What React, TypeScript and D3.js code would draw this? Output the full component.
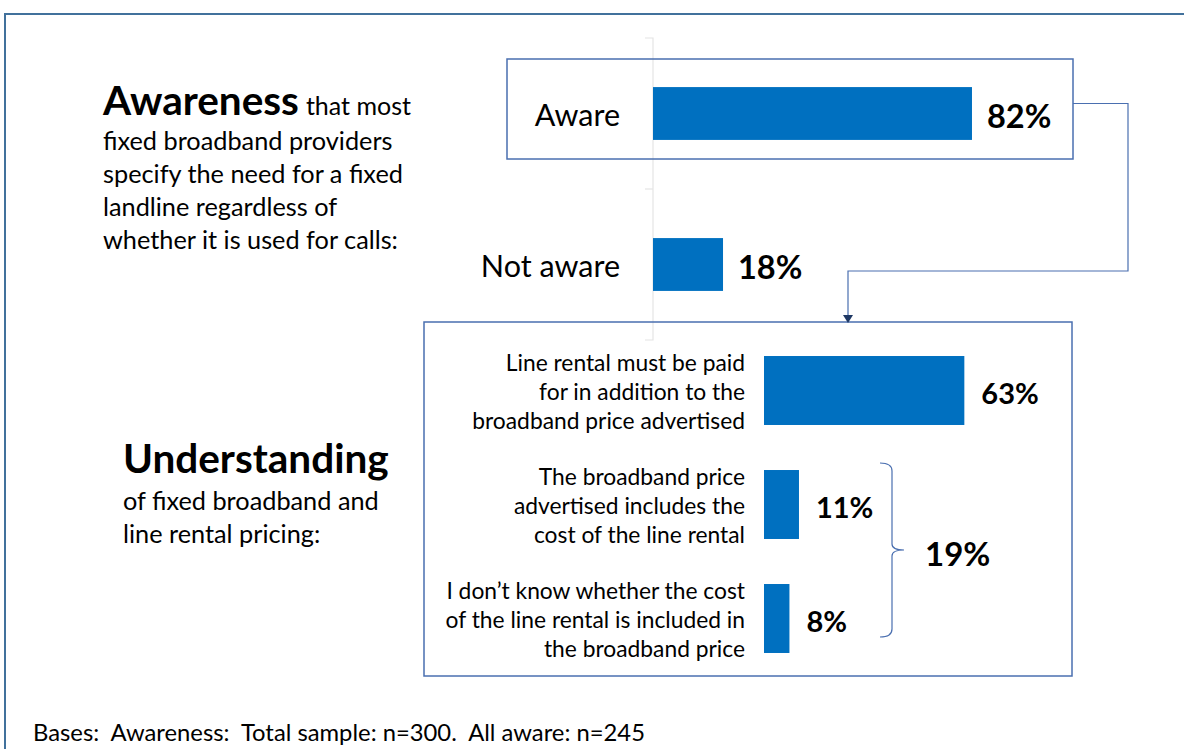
import React from 'react';
import * as d3 from 'd3';

const awarenessCategories = ['Aware', 'Not aware'];
const awarenessValues = [82, 18];

const understandingLabels = [
  ['Line rental must be paid', 'for in addition to the', 'broadband price advertised'],
  ['The broadband price', 'advertised includes the', 'cost of the line rental'],
  ['I don\u2019t know whether the cost', 'of the line rental is included in', 'the broadband price'],
];
const understandingValues = [63, 11, 8];
const notPaidTotal = 19;

const basesNote = 'Bases:  Awareness:  Total sample: n=300.  All aware: n=245';

const BAR = '#0070c0';
const FRAME = '#41719c';
const BOX = '#4a6fb0';
const FONT = 'Lato, "Open Sans", sans-serif';

const App = () => {
  const width = 1184;
  const height = 749;

  // top chart scales
  const yTop = d3
    .scaleBand()
    .domain(awarenessCategories)
    .range([38, 340])
    .paddingInner(0.65)
    .paddingOuter(0.325);
  const xTop = d3.scaleLinear().domain([0, 100]).range([653, 1042]);

  // bottom chart scales
  const keys = understandingLabels.map((d, i) => 'u' + i);
  const yBot = d3
    .scaleBand()
    .domain(keys)
    .range([333.5, 675.5])
    .paddingInner(0.395)
    .paddingOuter(0.1975);
  const xBot = d3.scaleLinear().domain([0, 100]).range([764, 1082]);

  // brace around the last two bars
  const bTop = yBot('u1')! - 7;
  const bBot = yBot('u2')! + yBot.bandwidth() - 16;
  const bMid = (bTop + bBot) / 2;
  const bx = 880;
  const brace = `M${bx},${bTop} Q${bx + 12},${bTop} ${bx + 12},${bTop + 8} L${bx + 12},${bMid - 6} Q${bx + 12},${bMid} ${bx + 24},${bMid} Q${bx + 12},${bMid} ${bx + 12},${bMid + 6} L${bx + 12},${bBot - 8} Q${bx + 12},${bBot} ${bx},${bBot}`;

  const awareMid = yTop('Aware')! + yTop.bandwidth() / 2;

  return (
    <svg width={width} height={height} style={{ position: 'absolute', left: 0, top: 0 }}>
      <rect width={width} height={height} fill="#fff" />

      {/* outer frame */}
      <path d={`M5,${height} L5,14 L${width + 5},14`} fill="none" stroke={FRAME} strokeWidth={2} />

      {/* faint category axis of the top chart */}
      <g stroke="#e4e4e4" strokeWidth={1.2} fill="none">
        <path d={`M645,38 L653,38 L653,340 L645,340`} />
        <path d={`M645,189 L653,189`} />
      </g>

      {/* boxes */}
      <rect x={507} y={59} width={566} height={100} fill="none" stroke={BOX} strokeWidth={1.5} />
      <rect x={424} y={322} width={648} height={354} fill="none" stroke={BOX} strokeWidth={1.5} />

      {/* connector */}
      <path
        d={`M1073,${awareMid - 10} L1128,${awareMid - 10} L1128,271 L848,271 L848,316`}
        fill="none"
        stroke={BOX}
        strokeWidth={1.2}
      />
      <path d="M843,315 L853,315 L848,323 Z" fill="#1f3864" />

      {/* awareness bars */}
      {awarenessCategories.map((c, i) => {
        const y = yTop(c)!;
        const h = yTop.bandwidth();
        return (
          <g key={c}>
            <rect x={xTop(0)} y={y} width={xTop(awarenessValues[i]) - xTop(0)} height={h} fill={BAR} />
            <text
              x={620}
              y={y + h / 2}
              textAnchor="end"
              dominantBaseline="central"
              fontFamily={FONT}
              fontSize={30.5}
              fill="#000"
            >
              {c}
            </text>
            <text
              x={xTop(awarenessValues[i]) + 15}
              y={y + h / 2 + 2}
              dominantBaseline="central"
              fontFamily={FONT}
              fontWeight="bold"
              fontSize={32.5}
              fill="#000"
            >
              {awarenessValues[i] + '%'}
            </text>
          </g>
        );
      })}

      {/* understanding bars */}
      {keys.map((k, i) => {
        const y = yBot(k)!;
        const h = yBot.bandwidth();
        const mid = y + h / 2;
        return (
          <g key={k}>
            <rect x={xBot(0)} y={y} width={xBot(understandingValues[i]) - xBot(0)} height={h} fill={BAR} />
            {understandingLabels[i].map((line, j) => (
              <text
                key={j}
                x={745}
                y={mid + (j - 1) * 29}
                textAnchor="end"
                dominantBaseline="central"
                fontFamily={FONT}
                fontSize={22.8}
                fill="#000"
              >
                {line}
              </text>
            ))}
            <text
              x={xBot(understandingValues[i]) + 17}
              y={mid + 2}
              dominantBaseline="central"
              fontFamily={FONT}
              fontWeight="bold"
              fontSize={29}
              fill="#000"
            >
              {understandingValues[i] + '%'}
            </text>
          </g>
        );
      })}

      {/* brace + combined value */}
      <path d={brace} fill="none" stroke={BOX} strokeWidth={1.2} />
      <text
        x={925}
        y={bMid + 3}
        dominantBaseline="central"
        fontFamily={FONT}
        fontWeight="bold"
        fontSize={33}
        fill="#000"
      >
        {notPaidTotal + '%'}
      </text>

      {/* left side descriptions */}
      <g fontFamily={FONT} fill="#000">
        <text x={103} y={115}>
          <tspan fontWeight="bold" fontSize={40.5}>Awareness</tspan>
          <tspan fontSize={25} dx={7}>that most</tspan>
        </text>
        {['fixed broadband providers', 'specify the need for a fixed', 'landline regardless of', 'whether it is used for calls:'].map(
          (t, i) => (
            <text key={t} x={103} y={150 + i * 33} fontSize={25.3}>
              {t}
            </text>
          )
        )}
        <text x={123} y={473} fontWeight="bold" fontSize={40.5}>
          Understanding
        </text>
        <text x={123} y={510} fontSize={25.3}>
          of fixed broadband and
        </text>
        <text x={123} y={543} fontSize={25.3}>
          line rental pricing:
        </text>
        <text x={33} y={741} fontSize={23.8} style={{ whiteSpace: 'pre' }}>
          {basesNote}
        </text>
      </g>
    </svg>
  );
};

export default App;
